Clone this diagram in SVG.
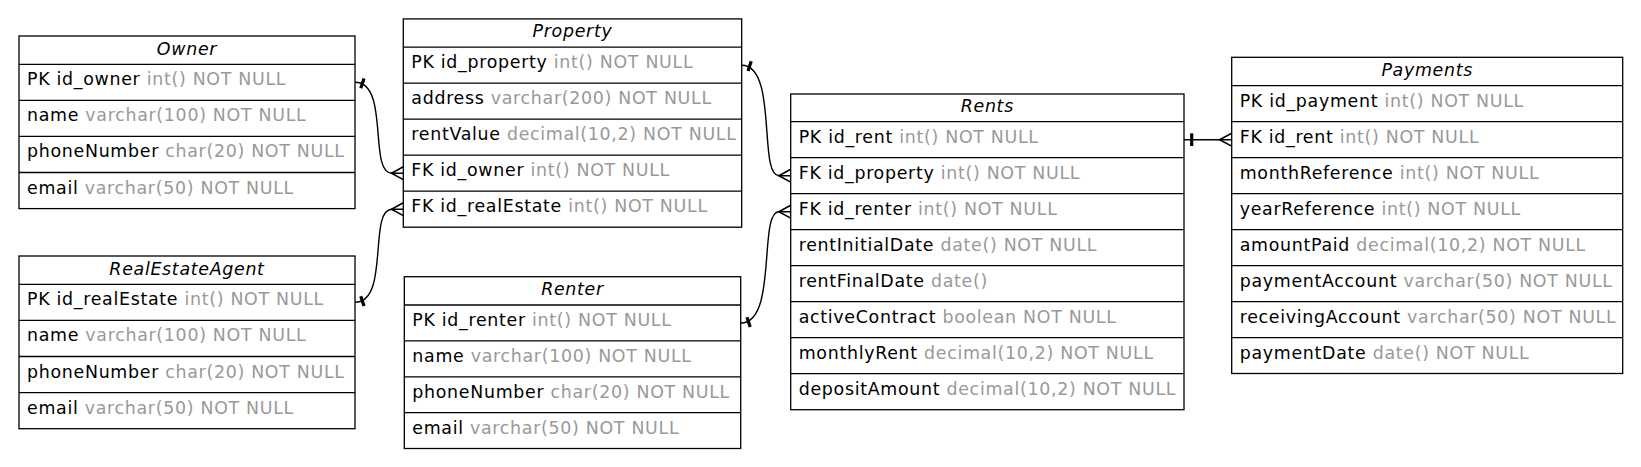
<svg xmlns="http://www.w3.org/2000/svg" width="1641" height="467" viewBox="0 0 1641 467">
<style>
  text{font-family:"DejaVu Sans","Liberation Sans",sans-serif;font-size:17.4px;letter-spacing:0.7px;fill:#000}
  .h{font-style:italic;text-anchor:middle}
  .t{fill:#999999}
  .box{fill:#fff;stroke:#000;stroke-width:1.3}
  .sep{stroke:#000;stroke-width:1.3}
  .edge{fill:none;stroke:#000;stroke-width:1.4}
  .tee{stroke:#000;stroke-width:3.2;stroke-linecap:butt}
  .crow{fill:none;stroke:#000;stroke-width:1.6;stroke-linejoin:miter}
</style>
<rect width="1641" height="467" fill="#fff"/>

<g id="Owner">
  <rect class="box" x="19" y="36" width="336" height="172.6"/>
  <path class="sep" d="M19,64.3H355M19,100.3H355M19,136.4H355M19,172.5H355"/>
  <text class="h" x="187" y="54.5">Owner</text>
  <text x="27" y="85.3">PK id_owner <tspan class="t">int() NOT NULL</tspan></text>
  <text x="27" y="121.3">name <tspan class="t">varchar(100) NOT NULL</tspan></text>
  <text x="27" y="157.4">phoneNumber <tspan class="t">char(20) NOT NULL</tspan></text>
  <text x="27" y="193.5">email <tspan class="t">varchar(50) NOT NULL</tspan></text>
</g>

<g id="RealEstateAgent">
  <rect class="box" x="19" y="256" width="336" height="172.7"/>
  <path class="sep" d="M19,284.3H355M19,320.4H355M19,356.5H355M19,392.6H355"/>
  <text class="h" x="187" y="274.5">RealEstateAgent</text>
  <text x="27" y="305.3">PK id_realEstate <tspan class="t">int() NOT NULL</tspan></text>
  <text x="27" y="341.4">name <tspan class="t">varchar(100) NOT NULL</tspan></text>
  <text x="27" y="377.5">phoneNumber <tspan class="t">char(20) NOT NULL</tspan></text>
  <text x="27" y="413.6">email <tspan class="t">varchar(50) NOT NULL</tspan></text>
</g>

<g id="Property">
  <rect class="box" x="403.3" y="18.9" width="338.4" height="208.3"/>
  <path class="sep" d="M403.3,47.2H741.7M403.3,83.2H741.7M403.3,119.2H741.7M403.3,155.2H741.7M403.3,191.2H741.7"/>
  <text class="h" x="572.5" y="37.4">Property</text>
  <text x="411.3" y="68.2">PK id_property <tspan class="t">int() NOT NULL</tspan></text>
  <text x="411.3" y="104.2">address <tspan class="t">varchar(200) NOT NULL</tspan></text>
  <text x="411.3" y="140.2">rentValue <tspan class="t">decimal(10,2) NOT NULL</tspan></text>
  <text x="411.3" y="176.2">FK id_owner <tspan class="t">int() NOT NULL</tspan></text>
  <text x="411.3" y="212.2">FK id_realEstate <tspan class="t">int() NOT NULL</tspan></text>
</g>

<g id="Renter">
  <rect class="box" x="404.3" y="276.7" width="336.4" height="171.8"/>
  <path class="sep" d="M404.3,305H740.7M404.3,340.9H740.7M404.3,376.8H740.7M404.3,412.6H740.7"/>
  <text class="h" x="572.5" y="295.2">Renter</text>
  <text x="412.3" y="326">PK id_renter <tspan class="t">int() NOT NULL</tspan></text>
  <text x="412.3" y="361.9">name <tspan class="t">varchar(100) NOT NULL</tspan></text>
  <text x="412.3" y="397.8">phoneNumber <tspan class="t">char(20) NOT NULL</tspan></text>
  <text x="412.3" y="433.6">email <tspan class="t">varchar(50) NOT NULL</tspan></text>
</g>

<g id="Rents">
  <rect class="box" x="790.7" y="94" width="393.3" height="315.7"/>
  <path class="sep" d="M790.7,121.7H1184M790.7,157.7H1184M790.7,193.7H1184M790.7,229.7H1184M790.7,265.7H1184M790.7,301.7H1184M790.7,337.7H1184M790.7,373.7H1184"/>
  <text class="h" x="987.3" y="112.2">Rents</text>
  <text x="798.7" y="142.7">PK id_rent <tspan class="t">int() NOT NULL</tspan></text>
  <text x="798.7" y="178.7">FK id_property <tspan class="t">int() NOT NULL</tspan></text>
  <text x="798.7" y="214.7">FK id_renter <tspan class="t">int() NOT NULL</tspan></text>
  <text x="798.7" y="250.7">rentInitialDate <tspan class="t">date() NOT NULL</tspan></text>
  <text x="798.7" y="286.7">rentFinalDate <tspan class="t">date()</tspan></text>
  <text x="798.7" y="322.7">activeContract <tspan class="t">boolean NOT NULL</tspan></text>
  <text x="798.7" y="358.7">monthlyRent <tspan class="t">decimal(10,2) NOT NULL</tspan></text>
  <text x="798.7" y="394.7">depositAmount <tspan class="t">decimal(10,2) NOT NULL</tspan></text>
</g>

<g id="Payments">
  <rect class="box" x="1231.7" y="57.3" width="391" height="316.2"/>
  <path class="sep" d="M1231.7,85.7H1622.7M1231.7,121.7H1622.7M1231.7,157.7H1622.7M1231.7,193.7H1622.7M1231.7,229.7H1622.7M1231.7,265.7H1622.7M1231.7,301.7H1622.7M1231.7,337.7H1622.7"/>
  <text class="h" x="1427.2" y="75.6">Payments</text>
  <text x="1239.7" y="106.7">PK id_payment <tspan class="t">int() NOT NULL</tspan></text>
  <text x="1239.7" y="142.7">FK id_rent <tspan class="t">int() NOT NULL</tspan></text>
  <text x="1239.7" y="178.7">monthReference <tspan class="t">int() NOT NULL</tspan></text>
  <text x="1239.7" y="214.7">yearReference <tspan class="t">int() NOT NULL</tspan></text>
  <text x="1239.7" y="250.7">amountPaid <tspan class="t">decimal(10,2) NOT NULL</tspan></text>
  <text x="1239.7" y="286.7">paymentAccount <tspan class="t">varchar(50) NOT NULL</tspan></text>
  <text x="1239.7" y="322.7">receivingAccount <tspan class="t">varchar(50) NOT NULL</tspan></text>
  <text x="1239.7" y="358.7">paymentDate <tspan class="t">date() NOT NULL</tspan></text>
</g>

<g id="connectors">
  <!-- Owner.id_owner -> Property.id_owner -->
  <path class="edge" d="M355,82.3C390,82.3 368,173.2 392,173.2L403.3,173.2"/>
  <line class="tee" x1="360.8" y1="88.3" x2="364" y2="78.5"/>
  <polyline class="crow" points="403.3,166.8 391.5,173.2 403.3,179.6"/>
  <!-- RealEstateAgent.id_realEstate -> Property.id_realEstate -->
  <path class="edge" d="M355,302.3C390,302.3 368,209.2 392,209.2L403.3,209.2"/>
  <line class="tee" x1="360.8" y1="296.3" x2="364" y2="306.1"/>
  <polyline class="crow" points="403.3,202.8 391.5,209.2 403.3,215.6"/>
  <!-- Property.id_property -> Rents.id_property -->
  <path class="edge" d="M741.7,65.2C778,65.2 758,175.7 779,175.7L790.7,175.7"/>
  <line class="tee" x1="748" y1="71" x2="751.2" y2="61.2"/>
  <polyline class="crow" points="790.7,169.3 778.9,175.7 790.7,182.1"/>
  <!-- Renter.id_renter -> Rents.id_renter -->
  <path class="edge" d="M740.7,323C778,323 758,211.7 779,211.7L790.7,211.7"/>
  <line class="tee" x1="747" y1="317.2" x2="750.2" y2="327"/>
  <polyline class="crow" points="790.7,205.3 778.9,211.7 790.7,218.1"/>
  <!-- Rents.id_rent -> Payments.id_rent -->
  <path class="edge" d="M1184,139.7H1231.7"/>
  <line class="tee" x1="1191.7" y1="133.4" x2="1191.7" y2="146"/>
  <polyline class="crow" points="1231.7,133.3 1219.5,139.7 1231.7,146.1"/>
</g>
</svg>
